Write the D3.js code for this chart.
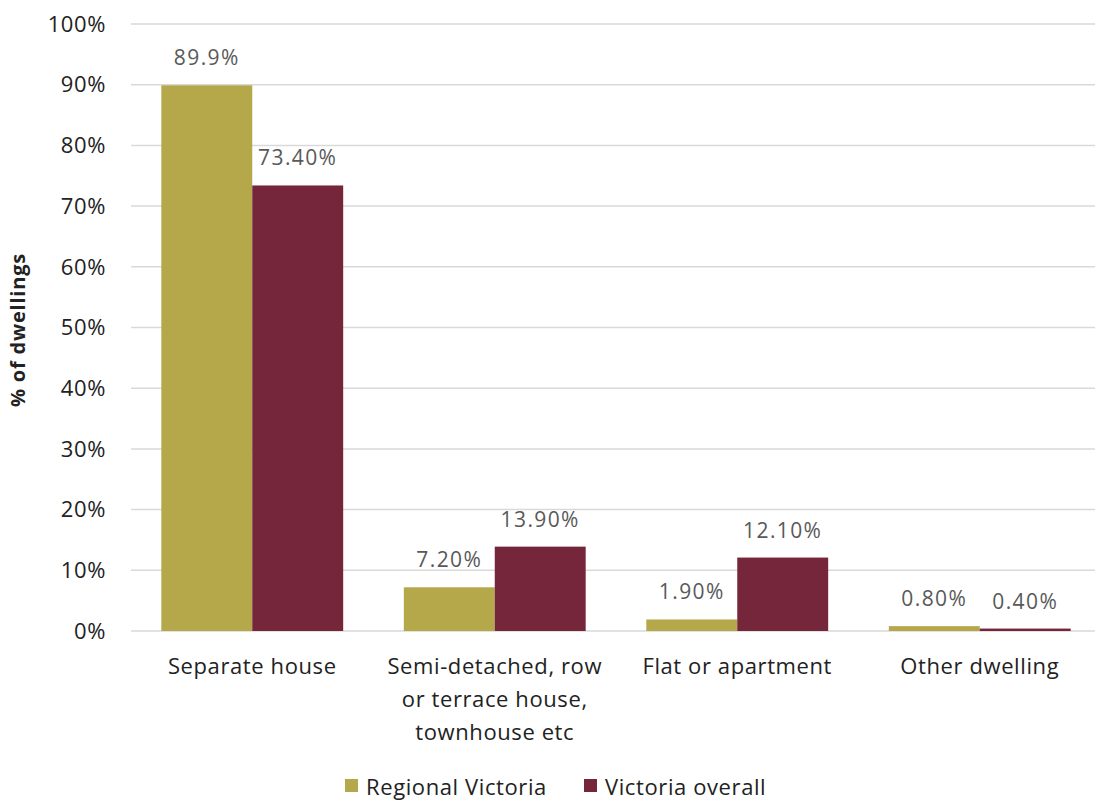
<!DOCTYPE html>
<html lang="en">
<head>
    <script src="https://d3js.org/d3.v7.min.js"></script>
    <style>
        body { margin: 0; background: #fff; }
        text { font-family: "Open Sans", "Noto Sans", sans-serif; }
    </style>
</head>
<body>
<script>
    var categories = ["Separate house", "Semi-detached, row|or terrace house,|townhouse etc", "Flat or apartment", "Other dwelling"];
    var seriesNames = ["Regional Victoria", "Victoria overall"];
    var regional = [89.9, 7.2, 1.9, 0.8];
    var overall = [73.4, 13.9, 12.1, 0.4];
    var regionalLabels = ["89.9%", "7.20%", "1.90%", "0.80%"];
    var overallLabels = ["73.40%", "13.90%", "12.10%", "0.40%"];
    var yTicks = [0, 10, 20, 30, 40, 50, 60, 70, 80, 90, 100];
    var colors = ["#b5a84a", "#76263b"];

    var width = 1095, height = 800;

    var svg = d3.select("body").append("svg")
        .attr("width", width)
        .attr("height", height);

    var x = d3.scaleBand()
        .domain(categories)
        .range([131, 1101])
        .paddingInner(0.25)
        .paddingOuter(0.125);

    var x1 = d3.scaleBand()
        .domain(seriesNames)
        .range([0, x.bandwidth()]);

    var y = d3.scaleLinear()
        .domain([0, 100])
        .range([631, 24]);

    // gridlines
    svg.append("g").selectAll("line")
        .data(yTicks)
        .join("line")
        .attr("x1", 131).attr("x2", width)
        .attr("y1", d => y(d)).attr("y2", d => y(d))
        .attr("stroke", "#d9d9d9")
        .attr("stroke-width", 1.5);

    // y tick labels
    svg.append("g").selectAll("text")
        .data(yTicks)
        .join("text")
        .attr("x", 106)
        .attr("y", d => y(d))
        .attr("dy", "0.35em")
        .attr("text-anchor", "end")
        .attr("font-size", 22)
        .attr("letter-spacing", 0.6)
        .attr("fill", "#222")
        .text(d => d + "%");

    // y title
    svg.append("text")
        .attr("transform", "translate(25,330) rotate(-90)")
        .attr("text-anchor", "middle")
        .attr("font-size", 20)
        .attr("letter-spacing", 0.8)
        .attr("font-weight", "bold")
        .attr("fill", "#222")
        .text("% of dwellings");

    var rows = categories.map(function(c, i) {
        return [
            { cat: c, s: seriesNames[0], v: regional[i], label: regionalLabels[i], color: colors[0] },
            { cat: c, s: seriesNames[1], v: overall[i], label: overallLabels[i], color: colors[1] }
        ];
    }).flat();

    svg.append("g").selectAll("rect")
        .data(rows)
        .join("rect")
        .attr("x", d => x(d.cat) + x1(d.s))
        .attr("width", x1.bandwidth())
        .attr("y", d => y(d.v))
        .attr("height", d => y(0) - y(d.v))
        .attr("fill", d => d.color);

    svg.append("g").selectAll("text")
        .data(rows)
        .join("text")
        .attr("x", d => x(d.cat) + x1(d.s) + x1.bandwidth() / 2)
        .attr("y", d => y(d.v) - 20)
        .attr("text-anchor", "middle")
        .attr("font-size", 21)
        .attr("letter-spacing", 1.4)
        .attr("fill", "#595959")
        .text(d => d.label);

    // x labels
    var xl = svg.append("g").selectAll("text")
        .data(categories)
        .join("text")
        .attr("x", d => x(d) + x.bandwidth() / 2)
        .attr("y", 674)
        .attr("text-anchor", "middle")
        .attr("font-size", 22)
        .attr("letter-spacing", 0.6)
        .attr("fill", "#222");
    xl.each(function(d) {
        var t = d3.select(this);
        d.split("|").forEach(function(line, i) {
            t.append("tspan")
                .attr("x", t.attr("x"))
                .attr("dy", i === 0 ? 0 : 33)
                .text(line);
        });
    });

    // legend
    var legendX = [345, 584];
    var lg = svg.append("g").selectAll("g")
        .data(seriesNames)
        .join("g")
        .attr("transform", (d, i) => "translate(" + legendX[i] + ",779)");
    lg.append("rect")
        .attr("width", 13).attr("height", 13)
        .attr("fill", (d, i) => colors[i]);
    lg.append("text")
        .attr("x", 21).attr("y", 8)
        .attr("dy", "0.35em")
        .attr("font-size", 22)
        .attr("letter-spacing", 0.6)
        .attr("fill", "#222")
        .text(d => d);
</script>
</body>
</html>
